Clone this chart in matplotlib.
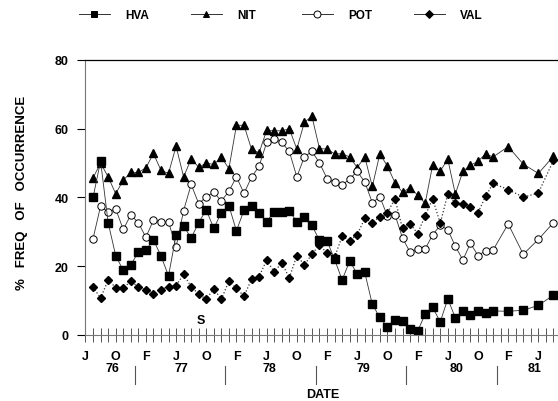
import matplotlib
matplotlib.use("Agg")
import matplotlib.pyplot as plt
import matplotlib.transforms as mtransforms
from matplotlib.lines import Line2D

plt.rcParams["font.family"] = ["Liberation Sans", "DejaVu Sans"]
plt.rcParams["font.weight"] = "bold"

# months counted from June 1976 (0); monthly to month 54, then every 2nd month
months = list(range(1, 55)) + [56, 58, 60, 62]

hva = [40.0, 50.6, 32.7, 23.1, 18.8, 20.4, 24.1, 24.7, 27.7, 23.0, 17.2, 29.1,
       31.7, 28.2, 32.7, 36.4, 31.0, 35.6, 37.6, 30.3, 36.3, 37.5, 35.5, 33.0,
       35.8, 35.8, 36.1, 33.0, 34.2, 31.9, 27.5, 27.4, 22.0, 16.0, 21.5, 17.8,
       18.2, 8.9, 5.1, 2.3, 4.4, 4.0, 1.6, 1.1, 6.1, 8.0, 3.8, 10.5,
       5.0, 7.0, 5.7, 7.0, 6.4, 7.0, 6.9, 7.2, 8.6, 11.6]

nit = [45.7, 50.0, 46.0, 41.1, 45.0, 47.3, 47.3, 48.6, 52.8, 47.9, 47.0, 54.9,
       46.0, 51.2, 48.8, 50.0, 49.6, 51.7, 48.4, 61.0, 61.0, 54.0, 53.0, 59.5,
       59.4, 59.4, 60.0, 54.1, 61.9, 63.6, 54.2, 54.1, 52.7, 52.7, 51.8, 48.7,
       51.8, 43.2, 52.7, 49.1, 44.3, 41.5, 42.9, 40.7, 38.3, 49.5, 47.7, 51.1,
       41.0, 47.6, 49.4, 50.5, 52.7, 51.8, 54.8, 49.7, 47.0, 52.0]

pot = [28.0, 37.5, 35.7, 36.7, 30.7, 34.9, 32.7, 28.4, 33.4, 32.9, 32.9, 25.6,
       36.2, 43.8, 38.2, 40.2, 41.5, 39.0, 41.8, 46.0, 41.2, 45.9, 49.1, 56.0,
       57.1, 56.0, 53.4, 46.0, 51.8, 53.4, 50.1, 45.5, 44.4, 43.6, 45.4, 47.6,
       44.5, 38.5, 40.2, 34.6, 35.0, 28.2, 24.1, 25.1, 25.0, 29.2, 31.9, 30.6,
       25.8, 21.8, 26.7, 23.1, 24.5, 24.7, 32.3, 23.5, 27.8, 32.7]

val = [14.0, 10.7, 16.0, 13.8, 13.7, 15.6, 14.0, 13.2, 12.0, 13.2, 14.1, 14.3,
       17.7, 14.0, 11.9, 10.4, 13.4, 10.4, 15.7, 13.6, 11.3, 16.2, 17.0, 21.8,
       18.3, 21.0, 16.6, 23.1, 20.4, 23.5, 26.2, 23.8, 22.6, 28.7, 27.4, 29.2,
       33.9, 32.7, 34.4, 35.6, 39.6, 31.0, 32.4, 29.5, 34.7, 39.6, 32.5, 41.0,
       38.3, 38.0, 37.2, 35.6, 40.3, 44.1, 42.3, 40.1, 41.3, 50.8]

month_letters = ["J", "O", "F"]
years = ["76", "77", "78", "79", "80", "81"]
year_pos = [3.6, 12.7, 24.4, 36.8, 49.2, 59.5]
year_breaks = [6.5, 18.5, 30.5, 42.5, 54.5]

fig = plt.figure(figsize=(5.58, 4.02), dpi=100)
ax = fig.add_axes([0.1532, 0.1642, 0.8468, 0.6841])

lc = "#333333"
ax.plot(months, nit, "-", color=lc, lw=0.6, marker="^", ms=6,
        mfc="black", mec="black")
ax.plot(months, pot, "-", color=lc, lw=0.6, marker="o", ms=5.3,
        mfc="white", mec="black", mew=0.7)
ax.plot(months, val, ":", color=lc, lw=0.9, marker="D", ms=4.3,
        mfc="black", mec="black")
ax.plot(months, hva, "-", color=lc, lw=0.6, marker="s", ms=5.8,
        mfc="black", mec="black")

ax.text(15.3, 4.4, "S", ha="center", va="center", fontsize=9, fontweight="bold")

ax.set_xlim(0, 62.6)
ax.set_ylim(0, 80)
ax.set_yticks([0, 20, 40, 60, 80])
ax.tick_params(axis="y", direction="out", length=6, width=0.8, labelsize=9,
               pad=6, color="black")
ticks = list(range(0, 63))
ax.set_xticks(ticks)
ax.set_xticklabels([month_letters[(t // 4) % 3] if t % 4 == 0 else "" for t in ticks])
ax.tick_params(axis="x", direction="inout", length=10, width=0.7, labelsize=9,
               pad=5.5, color="#555555")

ax.spines["right"].set_visible(False)
ax.spines["left"].set_color("#777777")
ax.spines["bottom"].set_color("#777777")
ax.spines["top"].set_color("black")
ax.spines["top"].set_linewidth(0.9)

trans = mtransforms.blended_transform_factory(ax.transData, fig.transFigure)
for x, lab in zip(year_pos, years):
    fig.text(x, 0.082, lab, transform=trans, ha="center", va="center",
             fontsize=9, fontweight="bold")
for x in year_breaks:
    fig.add_artist(Line2D([x, x], [0.0423, 0.0871], transform=trans,
                          color="#555555", lw=0.8))

fig.text(0.578, 0.018, "DATE", ha="center", va="center", fontsize=9,
         fontweight="bold")
fig.text(0.04, 0.52, "%   FREQ   OF   OCCURRENCE", rotation=90, ha="center",
         va="center", fontsize=9.5, fontweight="bold")

# legend, one entry each
entries = [("HVA", "s", "black", 79), ("NIT", "^", "black", 191),
           ("POT", "o", "white", 302), ("VAL", "D", "black", 414)]
for lab, mk, fc, xpix in entries:
    h = Line2D([], [], color=lc, lw=0.7, marker=mk, ms=5 if mk != "D" else 4,
               mfc=fc, mec="black", mew=0.7)
    fig.legend([h], [lab], loc="center left",
               bbox_to_anchor=(xpix / 558, 1 - 15.7 / 402), frameon=False,
               borderpad=0, borderaxespad=0, handlelength=2.6,
               handletextpad=1.3, prop={"size": 8.5, "weight": "bold"})

fig.savefig("out.png", dpi=100)
